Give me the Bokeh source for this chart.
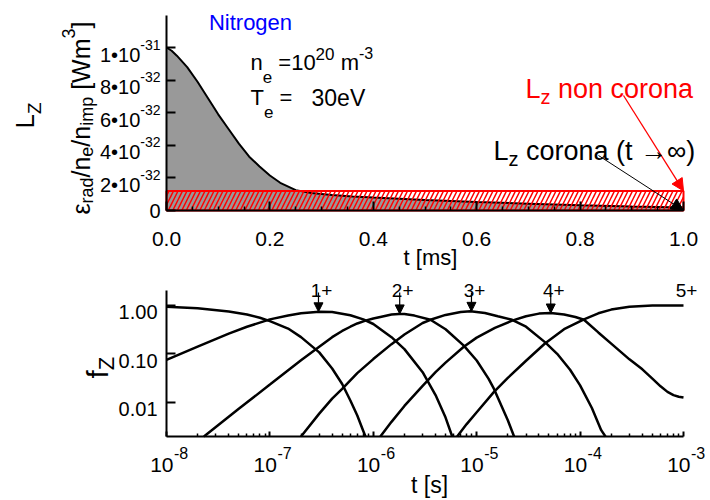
import math
from bokeh.plotting import figure
from bokeh.models import Range1d, FixedTicker, Label, Arrow, NormalHead, CustomJSTickFormatter
from bokeh.layouts import column
from bokeh.embed import file_html
from bokeh.resources import INLINE

FONT = "Liberation Sans"

# ---------------- data: top panel (L_z vs time) ----------------
t_ms = [0, 0.01, 0.02, 0.04, 0.06, 0.08, 0.10, 0.12, 0.14, 0.16, 0.18, 0.20, 0.22,
        0.25, 0.28, 0.32, 0.36, 0.40, 0.50, 0.60, 0.70, 0.80, 0.90, 1.00]
lz = [10.0e-32, 9.8e-32, 9.5e-32, 8.8e-32, 7.9e-32, 6.9e-32, 5.9e-32, 5.0e-32, 4.1e-32,
      3.3e-32, 2.7e-32, 2.15e-32, 1.7e-32, 1.25e-32, 1.08e-32, 0.95e-32, 0.86e-32,
      0.79e-32, 0.65e-32, 0.52e-32, 0.42e-32, 0.32e-32, 0.24e-32, 0.18e-32]
noncorona_t = [0.0, 1.0]
noncorona_level = 1.2e-32
top_xticks = [0, 0.2, 0.4, 0.6, 0.8, 1.0]
top_xlabels = ["0.0", "0.2", "0.4", "0.6", "0.8", "1.0"]
top_xminor = [0.05, 0.1, 0.15, 0.25, 0.3, 0.35, 0.45, 0.5, 0.55, 0.65, 0.7, 0.75, 0.85, 0.9, 0.95]
top_yticks = [0, 2e-32, 4e-32, 6e-32, 8e-32, 1e-31]
top_ymant = ["0", "2\u202210", "4\u202210", "6\u202210", "8\u202210", "1\u202210"]
top_yexp = ["", "-32", "-32", "-32", "-32", "-31"]
top_ymax = 1.1963e-31

# ---------------- data: bottom panel (fractional abundances) ----------------
t0 = [1e-8, 2e-8, 4e-8, 6e-8, 8e-8, 1e-7, 1.5e-7, 2e-7, 3e-7, 4e-7, 5e-7, 6e-7, 7e-7, 8e-7, 8.4e-7]
f0 = [0.93, 0.86, 0.74, 0.64, 0.55, 0.47, 0.33, 0.22, 0.107, 0.05, 0.024, 0.011, 0.0054, 0.0026, 0.002]
t1 = [1e-8, 2e-8, 4e-8, 6e-8, 1e-7, 1.5e-7, 2e-7, 3e-7, 4e-7, 6e-7, 8e-7, 1e-6, 1.5e-6, 2e-6,
      3e-6, 4e-6, 5e-6, 5.8e-6]
f1 = [0.075, 0.14, 0.26, 0.36, 0.51, 0.61, 0.68, 0.73, 0.72, 0.62, 0.51, 0.41, 0.22, 0.125,
      0.042, 0.0142, 0.0049, 0.002]
t2 = [2.3e-8, 5e-8, 1e-7, 2e-7, 3e-7, 4e-7, 5e-7, 6e-7, 7e-7, 8.4e-7, 1e-6, 1.2e-6, 1.5e-6, 1.77e-6,
      2e-6, 2.5e-6, 3.57e-6, 5e-6, 7.5e-6, 1e-5, 1.3e-5, 1.47e-5, 2e-5, 2.3e-5]
f2 = [0.002, 0.0074, 0.0233, 0.074, 0.14, 0.22, 0.295, 0.36, 0.42, 0.48, 0.53, 0.58, 0.64, 0.66,
      0.655, 0.61, 0.50, 0.32, 0.147, 0.073, 0.031, 0.019, 0.0043, 0.002]
t3 = [2e-7, 3e-7, 4e-7, 5e-7, 7e-7, 1e-6, 1.5e-6, 2e-6, 3e-6, 3.57e-6, 5e-6, 7e-6, 8.7e-6,
      1.2e-5, 1.6e-5, 2.2e-5, 3e-5, 4.6e-5, 6e-5, 8e-5, 1e-4, 1.3e-4, 1.6e-4, 1.76e-4]
f3 = [0.002, 0.0059, 0.012, 0.019, 0.040, 0.078, 0.158, 0.25, 0.43, 0.50, 0.63, 0.72, 0.746,
      0.69, 0.59, 0.50, 0.36, 0.172, 0.10, 0.047, 0.0224, 0.0077, 0.0027, 0.002]
t4 = [1.17e-6, 1.5e-6, 2e-6, 3e-6, 4e-6, 5e-6, 7.5e-6, 1e-5, 1.5e-5, 2.2e-5, 3e-5, 4e-5, 5.2e-5, 7e-5,
      9e-5, 1.09e-4, 1.5e-4, 2e-4, 3e-4, 4e-4, 5e-4, 6e-4, 7e-4, 8e-4, 9e-4, 1e-3]
f4 = [0.002, 0.0040, 0.0085, 0.022, 0.042, 0.066, 0.14, 0.215, 0.34, 0.48, 0.59, 0.67, 0.69, 0.64,
      0.57, 0.50, 0.275, 0.162, 0.077, 0.048, 0.031, 0.0215, 0.0165, 0.0142, 0.0131, 0.0126]
t5 = [6.47e-6, 8e-6, 1e-5, 1.47e-5, 2e-5, 3e-5, 4.6e-5, 7e-5, 1.09e-4, 1.5e-4, 2e-4, 3e-4, 5e-4, 7e-4, 1e-3]
f5 = [0.002, 0.0036, 0.0063, 0.0165, 0.032, 0.072, 0.165, 0.32, 0.51, 0.68, 0.81, 0.93, 0.978, 0.986, 0.987]
ion_labels = ["1+", "2+", "3+", "4+"]
peak_t = [2.95e-7, 1.8e-6, 8.9e-6, 5.2e-5]
peak_f = [0.73, 0.66, 0.746, 0.69]
bot_xticks = [1e-8, 1e-7, 1e-6, 1e-5, 1e-4, 1e-3]
bot_xexp = ["-8", "-7", "-6", "-5", "-4", "-3"]
bot_xminor = [m * 10.0 ** e for e in range(-8, -3) for m in range(2, 10)]
bot_yticks = [1.0, 0.1, 0.01]
bot_ylabels = ["1.00", "0.10", "0.01"]
bot_yrange = [0.002, 2.0]
bot_xrange = [1e-8, 1e-3]

# ---------------- helpers ----------------
ADV = {' ': 278, '(': 333, ')': 333, '+': 584, '-': 333, '.': 278, '/': 278, '=': 584, '[': 278,
       ']': 278, '\u2022': 350, '\u03b5': 440, '\u2192': 1000, '\u221e': 713, 'L': 556, 'T': 611,
       'V': 667, 'W': 944, 'Z': 611, 'N': 722, 'c': 500, 'f': 278, 'i': 222, 'm': 833, 'r': 333,
       's': 500, 't': 278, 'z': 500}


def tw(s, size):
    return sum(ADV.get(c, 556) for c in s) / 1000.0 * size


# top panel: page pixels -> data (axes at x 166..683 for t 0..1, y 210 = 0, 47 = 1e-31)
def top_xy(px, py):
    return (px - 166) / 517.0, (210 - py) / 163.0 * 1e-31


# bottom panel: page pixels -> data (x 166..683 for 1e-8..1e-3, y 290..436 for 2..0.002)
def bot_xy(px, py):
    return 10 ** (-8 + (px - 166) / 103.4), 10 ** (math.log10(2.0) - (py - 290) / 48.667)


def bot_px(t):
    return 166 + (math.log10(t) + 8) * 103.4


def bot_py(f):
    return 290 + (math.log10(2.0) - math.log10(f)) * 48.667


def lab(fig, mapper, px, py, text, size, color="black", align="left", angle=0.0):
    x, y = mapper(px, py)
    fig.add_layout(Label(x=x, y=y, text=text, text_font=FONT, text_font_size=f"{size}px",
                         text_color=color, text_align=align, text_baseline="alphabetic",
                         angle=angle))


def comp(fig, mapper, px, py, parts, color="black", rot=False):
    cur = 0.0
    for txt, size, dy in parts:
        lead = len(txt) - len(txt.lstrip(' '))
        cur += tw(' ' * lead, size)
        body = txt.strip(' ')
        if rot:
            lab(fig, mapper, px - dy, py - cur, body, size, color, "left", math.pi / 2)
        else:
            lab(fig, mapper, px + cur, py - dy, body, size, color, "left", 0.0)
        cur += tw(txt.lstrip(' '), size)


def style(fig):
    fig.title.visible = False
    fig.outline_line_color = None
    fig.xgrid.visible = False
    fig.ygrid.visible = False
    fig.background_fill_color = "white"
    fig.border_fill_color = "white"
    for ax in (fig.xaxis[0], fig.yaxis[0]):
        ax.axis_line_width = 2
        ax.major_tick_line_width = 2
        ax.major_tick_in = 9
        ax.major_tick_out = 0
        ax.minor_tick_in = 4
        ax.minor_tick_out = 0
        ax.minor_tick_line_width = 1.5
        ax.formatter = CustomJSTickFormatter(code="return ''")
        ax.major_label_standoff = 0


# ---------------- top panel ----------------
H1 = 274
p1 = figure(width=710, height=H1, output_backend="svg", toolbar_location=None,
            x_range=Range1d(top_xy(0, 0)[0], top_xy(710, 0)[0]),
            y_range=Range1d(top_xy(0, H1)[1], top_xy(0, 0)[1]),
            min_border_left=0, min_border_right=0, min_border_top=0, min_border_bottom=0)
style(p1)
p1.xaxis.ticker = FixedTicker(ticks=top_xticks, minor_ticks=top_xminor)
p1.yaxis.ticker = FixedTicker(ticks=top_yticks, minor_ticks=[])
p1.xaxis.fixed_location = 0
p1.xaxis.bounds = (top_xticks[0], top_xticks[-1])
p1.yaxis.fixed_location = 0
p1.yaxis.bounds = (0, top_ymax)

p1.varea(x=t_ms, y1=[0] * len(t_ms), y2=lz, fill_color="#999999")
p1.line(t_ms, lz, line_color="black", line_width=2)
p1.quad(left=noncorona_t[0], right=noncorona_t[1], bottom=0, top=noncorona_level,
        fill_color=None, line_color="red", line_width=2,
        hatch_pattern="/", hatch_color="red", hatch_scale=9, hatch_weight=1.5)

sx, sy = top_xy(623, 95)
p1.add_layout(Arrow(end=NormalHead(size=12, fill_color="red", line_color="red"),
                    x_start=sx, y_start=sy, x_end=noncorona_t[1], y_end=noncorona_level,
                    line_color="red", line_width=1.3))
sx, sy = top_xy(598, 155)
p1.add_layout(Arrow(end=NormalHead(size=12, fill_color="black", line_color="black"),
                    x_start=sx, y_start=sy, x_end=t_ms[-1], y_end=0,
                    line_color="black", line_width=1))

for v, txt in zip(top_xticks, top_xlabels):
    lab(p1, top_xy, 166 + v * 517, 238, txt, 21, align="center")
for v, m, e in zip(top_yticks, top_ymant, top_yexp):
    py = 210 - v / 1e-31 * 163
    if e:
        ew = tw(e, 14)
        lab(p1, top_xy, 160 - ew, py + 7, m, 20, align="right")
        lab(p1, top_xy, 160 - ew, py - 3, e, 14, align="left")
    else:
        lab(p1, top_xy, 160, py, m, 20, align="right")

lab(p1, top_xy, 430, 257, "t [ms]", 22, align="center")
lab(p1, top_xy, 250, 22, "Nitrogen", 22, color="blue", align="center")
comp(p1, top_xy, 250, 62, [("n", 22, 0), ("e", 17, -14), (" =10", 22, 0), ("20", 17, 9),
                            (" m", 22, 0), ("-3", 16, 10)])
comp(p1, top_xy, 250, 97, [("T", 22, 0), ("e", 17, -14), (" =", 22, 0), ("   30eV", 23, 0)])
comp(p1, top_xy, 525, 88, [("L", 27, 0), ("z", 20, -8), (" non corona", 27, 0)], color="red")
comp(p1, top_xy, 493, 150, [("L", 27, 0), ("z", 20, -8), (" corona (t \u2192\u221e)", 27, 0)])
comp(p1, top_xy, 24, 128, [("L", 26, 0), ("Z", 19, -10)], rot=True)
comp(p1, top_xy, 80, 214, [("\u03b5", 25, 0), ("rad", 18, -6), ("/n", 25, 0), ("e", 18, -6),
                            ("/n", 25, 0), ("imp", 18, -6), (" [Wm", 25, 0), ("3", 18, 12),
                            ("]", 25, 0)], rot=True)

# ---------------- bottom panel ----------------
H2 = 500 - H1
TOP2 = H1
p2 = figure(width=710, height=H2, output_backend="svg", toolbar_location=None,
            x_axis_type="log", y_axis_type="log",
            x_range=Range1d(bot_xy(0, 0)[0], bot_xy(710, 0)[0]),
            y_range=Range1d(bot_xy(0, 500)[1], bot_xy(0, TOP2)[1]),
            min_border_left=0, min_border_right=0, min_border_top=0, min_border_bottom=0)
style(p2)
p2.xaxis.ticker = FixedTicker(ticks=bot_xticks, minor_ticks=bot_xminor)
p2.xaxis.major_tick_in = 5
p2.xaxis.minor_tick_in = 3
p2.yaxis.ticker = FixedTicker(ticks=bot_yticks, minor_ticks=[])
p2.xaxis.fixed_location = bot_yrange[0]
p2.xaxis.bounds = (bot_xrange[0], bot_xrange[1])
p2.yaxis.fixed_location = bot_xrange[0]
p2.yaxis.bounds = (bot_yrange[0], bot_yrange[1])

for tt, ff in ((t0, f0), (t1, f1), (t2, f2), (t3, f3), (t4, f4), (t5, f5)):
    p2.line(tt, ff, line_color="black", line_width=2.5)

for name, tp, fp in zip(ion_labels, peak_t, peak_f):
    px = bot_px(tp)
    _, ys = bot_xy(px, 292)
    p2.add_layout(Arrow(end=NormalHead(size=9, fill_color="black", line_color="black"),
                        x_start=tp, y_start=ys, x_end=tp, y_end=fp,
                        line_color="black", line_width=1.2))
    lab(p2, bot_xy, px + 3, 290, name, 19, align="center")
lab(p2, bot_xy, bot_px(t5[-1]) + 3, 290, "5+", 19, align="center")

for v, e in zip(bot_xticks, bot_xexp):
    px = bot_px(v)
    lab(p2, bot_xy, px + 7, 464, "10", 21, align="right")
    lab(p2, bot_xy, px + 7.5, 452, e, 16, align="left")
for v, txt in zip(bot_yticks, bot_ylabels):
    lab(p2, bot_xy, 157, bot_py(v) + 7, txt, 20, align="right")

lab(p2, bot_xy, 429, 484, "t [s]", 23, align="center")
comp(p2, bot_xy, 97, 378, [("f", 30, 0), ("Z", 22, -9)], rot=True)

layout = column(p1, p2, spacing=0)
open("out.html", "w").write(file_html(layout, INLINE))
